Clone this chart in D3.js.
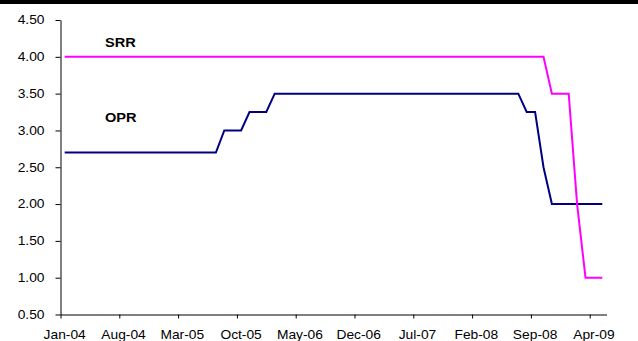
<!DOCTYPE html>
<html>
<head>
<meta charset="utf-8">
<script src="https://cdn.jsdelivr.net/npm/d3@7"></script>
<style>
  html, body { margin: 0; padding: 0; background: #fff; }
  svg { display: block; font-family: "Liberation Sans", Arial, sans-serif; }
</style>
</head>
<body>
<svg id="chart" width="638" height="341"></svg>
<script>
// Monthly policy rates, Jan-04 through May-09 (65 months)
const monthCount = 65;

// Statutory Reserve Requirement (%)
const srr = [
  4.00, 4.00, 4.00, 4.00, 4.00, 4.00, 4.00, 4.00, 4.00, 4.00, 4.00, 4.00,
  4.00, 4.00, 4.00, 4.00, 4.00, 4.00, 4.00, 4.00, 4.00, 4.00, 4.00, 4.00,
  4.00, 4.00, 4.00, 4.00, 4.00, 4.00, 4.00, 4.00, 4.00, 4.00, 4.00, 4.00,
  4.00, 4.00, 4.00, 4.00, 4.00, 4.00, 4.00, 4.00, 4.00, 4.00, 4.00, 4.00,
  4.00, 4.00, 4.00, 4.00, 4.00, 4.00, 4.00, 4.00, 4.00, 4.00, 3.50, 3.50,
  3.50, 2.00, 1.00, 1.00, 1.00
];

// Overnight Policy Rate (%)
const opr = [
  2.70, 2.70, 2.70, 2.70, 2.70, 2.70, 2.70, 2.70, 2.70, 2.70, 2.70, 2.70,
  2.70, 2.70, 2.70, 2.70, 2.70, 2.70, 2.70, 3.00, 3.00, 3.00, 3.25, 3.25,
  3.25, 3.50, 3.50, 3.50, 3.50, 3.50, 3.50, 3.50, 3.50, 3.50, 3.50, 3.50,
  3.50, 3.50, 3.50, 3.50, 3.50, 3.50, 3.50, 3.50, 3.50, 3.50, 3.50, 3.50,
  3.50, 3.50, 3.50, 3.50, 3.50, 3.50, 3.50, 3.25, 3.25, 2.50, 2.00, 2.00,
  2.00, 2.00, 2.00, 2.00, 2.00
];

// Axis labels
const xTickIndex = [0, 7, 14, 21, 28, 35, 42, 49, 56, 63];
const xTickLabels = ["Jan-04", "Aug-04", "Mar-05", "Oct-05", "May-06",
                     "Dec-06", "Jul-07", "Feb-08", "Sep-08", "Apr-09"];
const yTicks = [0.5, 1.0, 1.5, 2.0, 2.5, 3.0, 3.5, 4.0, 4.5];

const svg = d3.select("#chart");
const W = 638;
const plot = { left: 60.5, right: 606.5, top: 20, bottom: 314.5 };
const stretch = 1.15;   // wide-set lettering
const fmt = d3.format(".2f");

// top band
svg.append("rect").attr("x", 0).attr("y", 0).attr("width", W).attr("height", 4).attr("fill", "#000");

// category scale: each month occupies one slot, points sit in the slot centre
const x = d3.scaleLinear().domain([0, monthCount]).range([plot.left, plot.right]);
const y = d3.scaleLinear().domain([0.5, 4.5]).range([plot.bottom, plot.top]);
const half = (x(1) - x(0)) / 2;

// y axis (line + ticks)
const yAxis = svg.append("g")
  .attr("transform", `translate(${plot.left},0)`)
  .call(d3.axisLeft(y).tickValues(yTicks).tickSize(5).tickSizeOuter(0).tickFormat(""));
yAxis.select(".domain").attr("stroke", "#000");
yAxis.selectAll(".tick line").attr("stroke", "#000");

// y tick labels
svg.append("g").selectAll("text").data(yTicks).join("text")
  .attr("transform", d => `translate(44.5,${y(d) + 4.3}) scale(${stretch},1)`)
  .attr("text-anchor", "end")
  .attr("font-size", 12).attr("fill", "#000")
  .text(d => fmt(d));

// x axis: tick marks on slot boundaries
const xAxis = svg.append("g")
  .attr("transform", `translate(0,${plot.bottom})`)
  .call(d3.axisBottom(x).tickValues(xTickIndex).tickSize(4).tickSizeOuter(0).tickFormat(""));
xAxis.select(".domain").attr("stroke", "#000");
xAxis.selectAll(".tick line").attr("stroke", "#000");

// x tick labels, centred on their month slot
svg.append("g").selectAll("text").data(xTickIndex).join("text")
  .attr("transform", d => `translate(${x(d) + half},${plot.bottom + 24}) scale(${stretch},1)`)
  .attr("text-anchor", "middle")
  .attr("font-size", 12).attr("fill", "#000")
  .text((d, i) => xTickLabels[i]);

// series lines
const line = d3.line().x((d, i) => x(i + 0.5)).y(d => y(d));

svg.append("path").datum(opr)
  .attr("d", line).attr("fill", "none")
  .attr("stroke", "#000080").attr("stroke-width", 2);

svg.append("path").datum(srr)
  .attr("d", line).attr("fill", "none")
  .attr("stroke", "#FF00FF").attr("stroke-width", 2);

// series names
const seriesNames = [
  { text: "SRR", px: 105, py: 47.3 },
  { text: "OPR", px: 105, py: 121.7 }
];
svg.selectAll("text.series-name").data(seriesNames).join("text")
  .attr("class", "series-name")
  .attr("transform", d => `translate(${d.px},${d.py}) scale(1.08,1)`)
  .attr("font-size", 13.5).attr("font-weight", "bold").attr("fill", "#000")
  .text(d => d.text);
</script>
</body>
</html>
